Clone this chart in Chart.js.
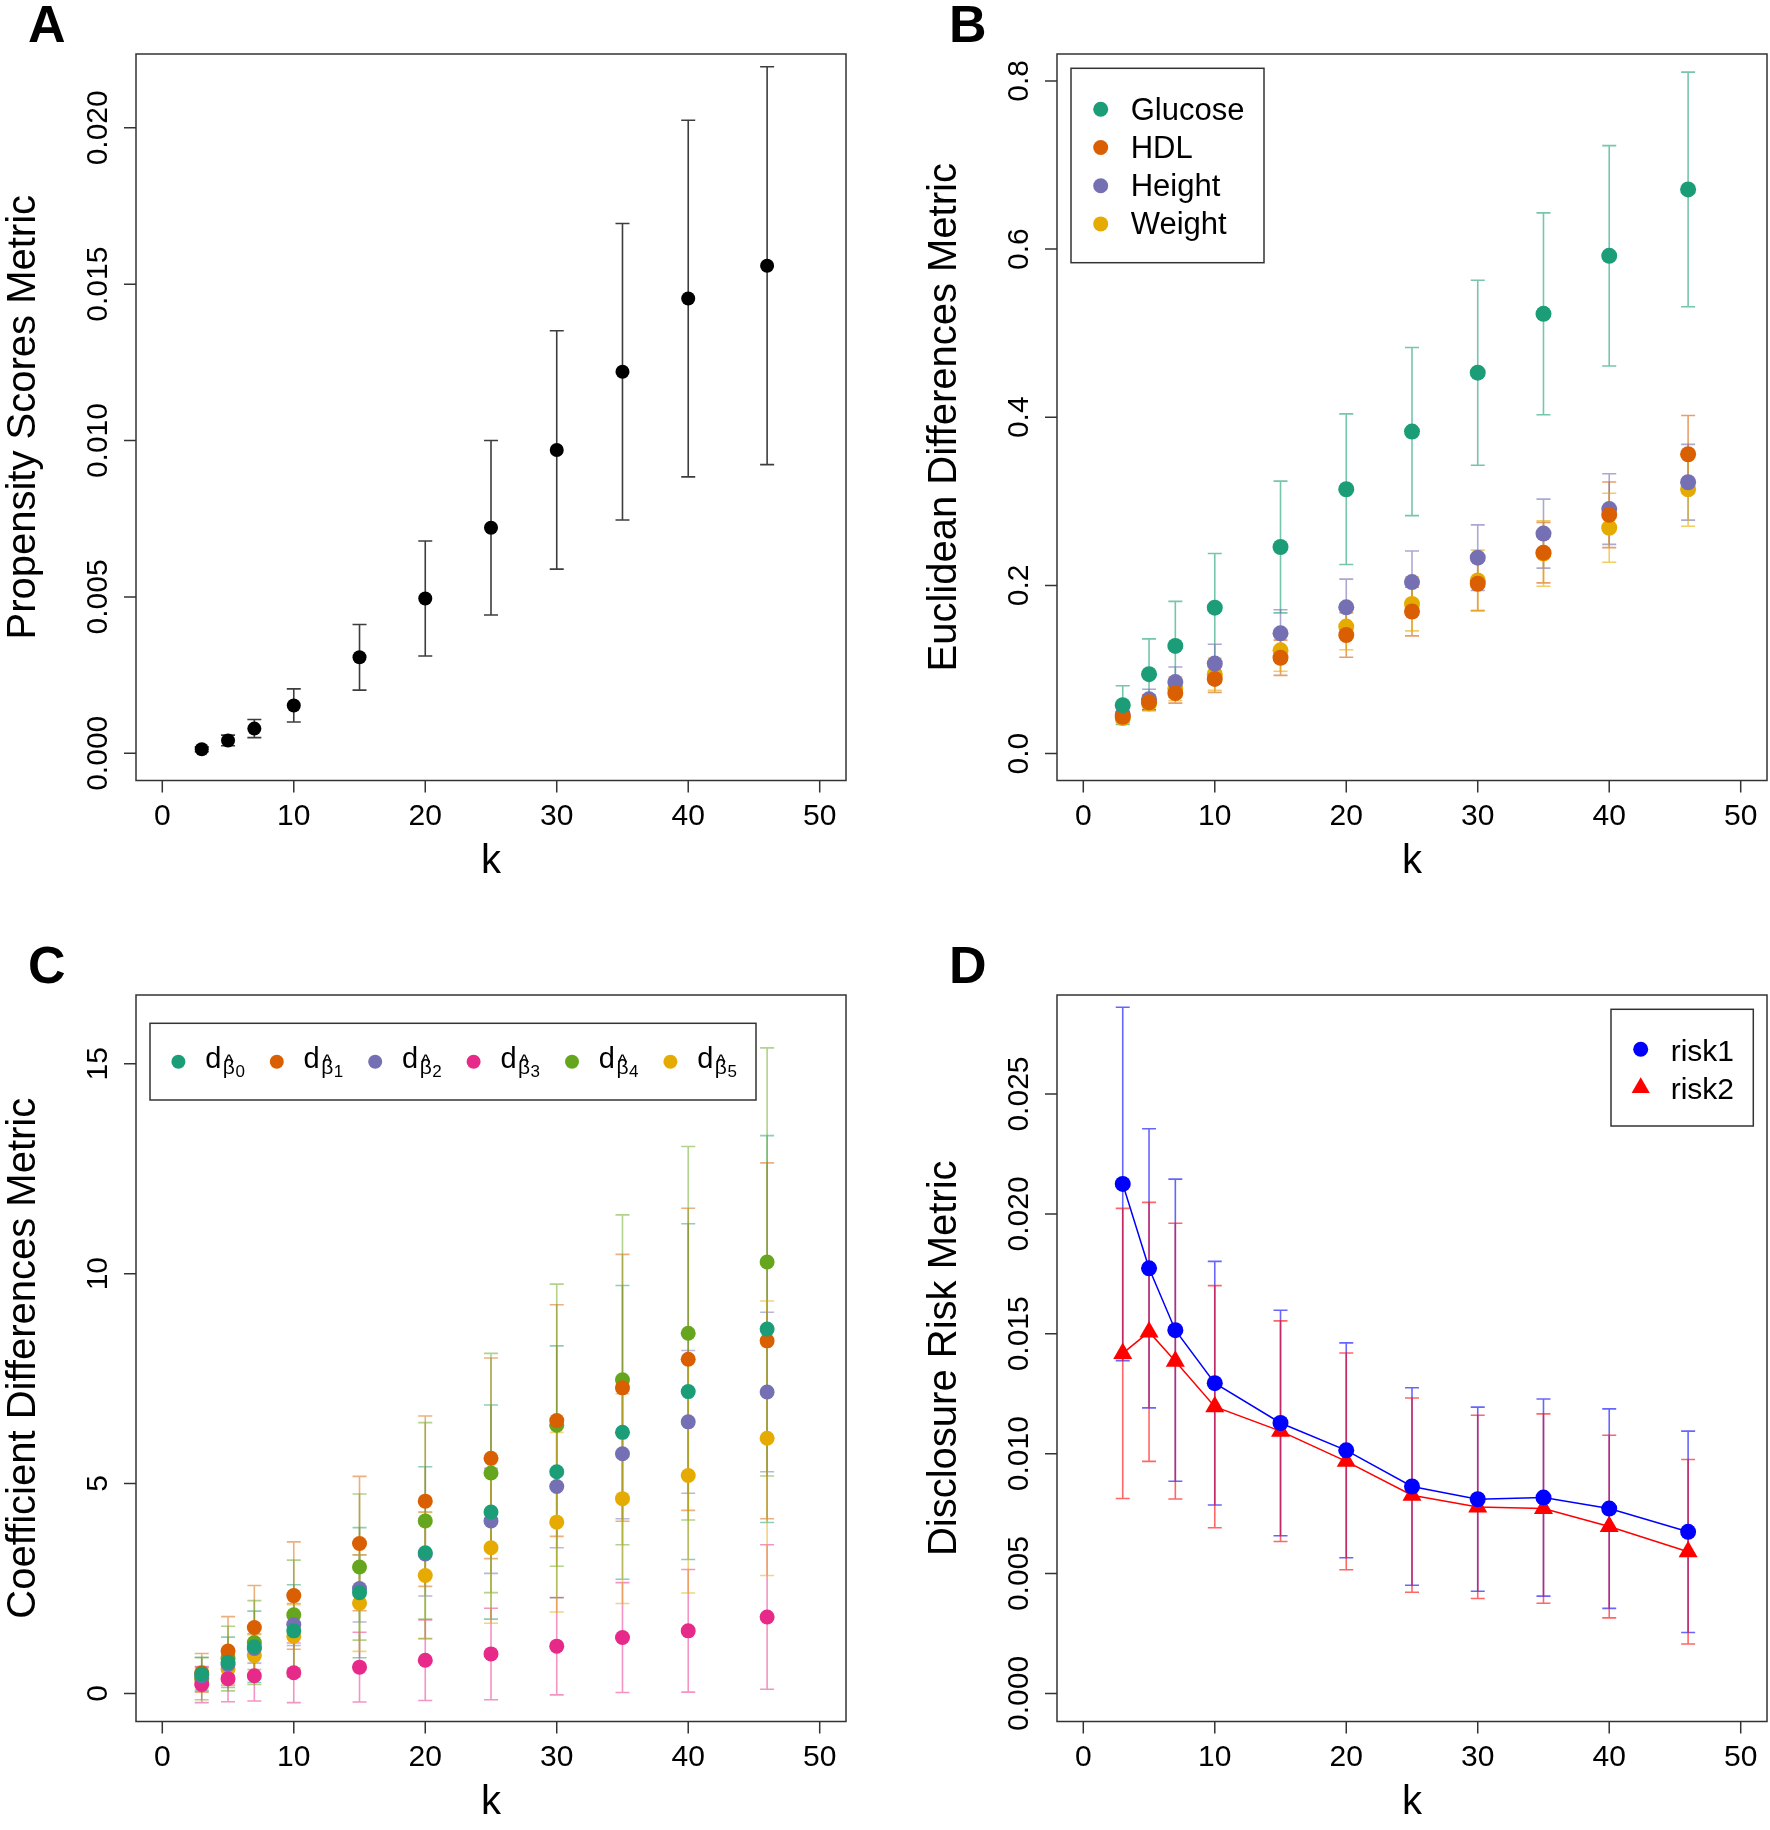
<!DOCTYPE html>
<html>
<head>
<meta charset="utf-8">
<script src="https://cdn.jsdelivr.net/npm/chart.js@4.4.1/dist/chart.umd.min.js"></script>
<style>
  body { margin: 0; background: #fff; }
  #wrap { position: relative; width: 1770px; height: 1830px; background: #fff; }
  canvas { position: absolute; }
</style>
</head>
<body>
<div id="wrap">
  <canvas id="panelA" width="849" height="889" style="left:0px;top:0px;width:849px;height:889px"></canvas>
  <canvas id="panelB" width="849" height="889" style="left:921px;top:0px;width:849px;height:889px"></canvas>
  <canvas id="panelC" width="849" height="889" style="left:0px;top:941px;width:849px;height:889px"></canvas>
  <canvas id="panelD" width="849" height="889" style="left:921px;top:941px;width:849px;height:889px"></canvas>
</div>
<script>
// k values shared by all four panels
const kValues = [3, 5, 7, 10, 15, 20, 25, 30, 35, 40, 46];
const xTicks = [0, 10, 20, 30, 40, 50];

// A - propensity scores metric (mean and sd)
const propMean = [0.00013, 0.00041, 0.00079, 0.00153, 0.00307, 0.00495, 0.00721, 0.0097, 0.0122, 0.01454, 0.01559];
const propSd = [0.00008, 0.00017, 0.00029, 0.00053, 0.00105, 0.00184, 0.00279, 0.00381, 0.00474, 0.0057, 0.00636];
const propTicks = [0, 0.005, 0.01, 0.015, 0.02];
const propTickLabels = ["0.000", "0.005", "0.010", "0.015", "0.020"];

// B - euclidean differences metric
const glucoseMean = [0.0576, 0.0944, 0.128, 0.1735, 0.2457, 0.3144, 0.383, 0.453, 0.523, 0.592, 0.671];
const glucoseSd = [0.023, 0.042, 0.053, 0.0645, 0.0783, 0.0896, 0.1, 0.11, 0.12, 0.131, 0.1395];
const hdlMean = [0.0437, 0.061, 0.072, 0.0888, 0.114, 0.141, 0.169, 0.202, 0.239, 0.284, 0.356];
const hdlSd = [0.006, 0.009, 0.012, 0.016, 0.021, 0.0265, 0.029, 0.032, 0.036, 0.039, 0.046];
const heightMean = [0.0465, 0.0645, 0.085, 0.107, 0.143, 0.174, 0.204, 0.233, 0.2616, 0.2908, 0.3227];
const heightSd = [0.007, 0.012, 0.018, 0.023, 0.028, 0.0335, 0.037, 0.039, 0.041, 0.042, 0.045];
const weightMean = [0.0423, 0.0597, 0.077, 0.0944, 0.1228, 0.151, 0.178, 0.206, 0.238, 0.2686, 0.3144];
const weightSd = [0.006, 0.009, 0.014, 0.019, 0.0248, 0.0275, 0.032, 0.036, 0.039, 0.041, 0.044];
const euclidTicks = [0, 0.2, 0.4, 0.6, 0.8];
const euclidTickLabels = ["0.0", "0.2", "0.4", "0.6", "0.8"];

// C - coefficient differences metric, d for beta-hat 0..5
const d0Mean = [0.46, 0.74, 1.11, 1.49, 2.40, 3.35, 4.32, 5.28, 6.22, 7.19, 8.68];
const d0Sd = [0.40, 0.60, 0.85, 1.10, 1.55, 2.05, 2.55, 3.00, 3.50, 4.00, 4.61];
const d1Mean = [0.49, 1.01, 1.57, 2.33, 3.57, 4.58, 5.60, 6.50, 7.28, 7.96, 8.40];
const d1Sd = [0.46, 0.82, 1.00, 1.28, 1.60, 2.03, 2.39, 2.76, 3.18, 3.60, 4.24];
const d2Mean = [0.42, 0.69, 1.07, 1.64, 2.50, 3.32, 4.11, 4.93, 5.71, 6.47, 7.18];
const d2Sd = [0.20, 0.25, 0.35, 0.50, 0.80, 1.00, 1.25, 1.46, 1.55, 1.70, 1.90];
const d3Mean = [0.21, 0.35, 0.42, 0.49, 0.625, 0.79, 0.94, 1.125, 1.33, 1.49, 1.82];
const d3Sd = [0.43, 0.55, 0.60, 0.71, 0.83, 0.96, 1.09, 1.16, 1.31, 1.46, 1.72];
const d4Mean = [0.35, 0.83, 1.21, 1.875, 3.01, 4.11, 5.25, 6.39, 7.47, 8.58, 10.28];
const d4Sd = [0.50, 0.77, 1.00, 1.30, 1.74, 2.34, 2.85, 3.36, 3.93, 4.45, 5.10];
const d5Mean = [0.35, 0.58, 0.90, 1.36, 2.15, 2.81, 3.47, 4.08, 4.64, 5.19, 6.08];
const d5Sd = [0.25, 0.35, 0.50, 0.75, 1.15, 1.50, 1.80, 2.14, 2.50, 2.80, 3.27];
const coefTicks = [0, 5, 10, 15];
const coefTickLabels = ["0", "5", "10", "15"];

// D - disclosure risk metric
const risk1Mean = [0.02125, 0.01773, 0.01515, 0.01294, 0.01128, 0.01014, 0.00863, 0.0081, 0.00817, 0.00771, 0.00674];
const risk1Sd = [0.00737, 0.00582, 0.0063, 0.00508, 0.0047, 0.00448, 0.00412, 0.00384, 0.00411, 0.00416, 0.0042];
const risk2Mean = [0.01418, 0.01508, 0.01386, 0.01196, 0.01094, 0.00968, 0.00827, 0.00778, 0.00771, 0.00696, 0.00591];
const risk2Sd = [0.00605, 0.0054, 0.00575, 0.00505, 0.0046, 0.00452, 0.00405, 0.00382, 0.00395, 0.00381, 0.00385];
const riskTicks = [0, 0.005, 0.01, 0.015, 0.02, 0.025];
const riskTickLabels = ["0.000", "0.005", "0.010", "0.015", "0.020", "0.025"];

const dark2 = ["#1B9E77", "#D95F02", "#7570B3", "#E7298A", "#66A61E", "#E6AB02"];
const FONT = '"Liberation Sans", Arial, Helvetica, sans-serif';

function pts(means) {
  return kValues.map((k, i) => ({ x: k, y: means[i] }));
}

function alpha(hex, a) {
  const n = parseInt(hex.slice(1), 16);
  return "rgba(" + (n >> 16) + "," + ((n >> 8) & 255) + "," + (n & 255) + "," + a + ")";
}

// per-panel frame settings (letters, titles, legends)
const frames = {};

function legendB(ctx, area, chart) {
  const x = area.left + 14, y = area.top + 14.3;
  ctx.fillStyle = "#fff";
  ctx.fillRect(x, y, 193, 194.4);
  ctx.strokeStyle = "#333";
  ctx.lineWidth = 1.5;
  ctx.strokeRect(x, y, 193, 194.4);
  ctx.font = "31px " + FONT;
  ctx.textAlign = "left";
  ctx.textBaseline = "alphabetic";
  chart.data.datasets.forEach((ds, i) => {
    const cy = y + 41 + i * 38.2;
    ctx.fillStyle = ds.pointBackgroundColor;
    ctx.beginPath();
    ctx.arc(x + 29.7, cy, 7.5, 0, Math.PI * 2);
    ctx.fill();
    ctx.fillStyle = "#000";
    ctx.fillText(ds.label, x + 59.7, cy + 10.5);
  });
}

function legendC(ctx, area, chart) {
  const x = area.left + 14, y = area.top + 28.3;
  ctx.fillStyle = "#fff";
  ctx.fillRect(x, y, 606, 76.7);
  ctx.strokeStyle = "#333";
  ctx.lineWidth = 1.5;
  ctx.strokeRect(x, y, 606, 76.7);
  ctx.textBaseline = "alphabetic";
  chart.data.datasets.forEach((ds, i) => {
    const cx = x + 28.4 + i * 98.4, cy = y + 38.4;
    ctx.fillStyle = ds.pointBackgroundColor;
    ctx.beginPath();
    ctx.arc(cx, cy, 7, 0, Math.PI * 2);
    ctx.fill();
    // d with subscript beta-hat and index
    ctx.fillStyle = "#000";
    const tx = cx + 26.8, base = cy + 6.6;
    ctx.textAlign = "left";
    ctx.font = "29px " + FONT;
    ctx.fillText("d", tx, base);
    const bx = tx + ctx.measureText("d").width + 1.5;
    ctx.font = "21px " + FONT;
    ctx.fillText("\u03B2", bx, base + 6);
    const bw = ctx.measureText("\u03B2").width;
    ctx.font = "20px " + FONT;
    ctx.textAlign = "center";
    ctx.fillText("^", bx + bw / 2, base + 0.5);
    ctx.textAlign = "left";
    ctx.font = "17px " + FONT;
    ctx.fillText(String(i), bx + bw + 0.5, base + 9);
  });
}

function legendD(ctx, area, chart) {
  const w = 142.3, h = 116.7;
  const x = area.right - 13.7 - w, y = area.top + 14.3;
  ctx.fillStyle = "#fff";
  ctx.fillRect(x, y, w, h);
  ctx.strokeStyle = "#333";
  ctx.lineWidth = 1.5;
  ctx.strokeRect(x, y, w, h);
  ctx.font = "30px " + FONT;
  ctx.textAlign = "left";
  ctx.textBaseline = "alphabetic";
  chart.data.datasets.forEach((ds, i) => {
    const cx = x + 29.7, cy = y + 40 + i * 38.4;
    ctx.fillStyle = ds.pointBackgroundColor;
    ctx.beginPath();
    if (ds.pointStyle === "triangle") {
      const r = 10.5;
      ctx.moveTo(cx, cy - r);
      ctx.lineTo(cx + r * 0.866, cy + r * 0.5);
      ctx.lineTo(cx - r * 0.866, cy + r * 0.5);
      ctx.closePath();
    } else {
      ctx.arc(cx, cy, 7.5, 0, Math.PI * 2);
    }
    ctx.fill();
    ctx.fillStyle = "#000";
    ctx.fillText(ds.label, x + 59.7, cy + 11.5);
  });
}

const rFrame = {
  id: "rFrame",
  beforeDatasetsDraw(chart) {
    // error bars (mean +/- sd) with caps
    const ctx = chart.ctx, xs = chart.scales.x, ys = chart.scales.y;
    chart.data.datasets.forEach(ds => {
      if (!ds.sd) return;
      ctx.save();
      ctx.strokeStyle = ds.barColor;
      ctx.lineWidth = 1.6;
      ds.data.forEach((p, i) => {
        const px = xs.getPixelForValue(p.x);
        const lo = ys.getPixelForValue(p.y - ds.sd[i]);
        const hi = ys.getPixelForValue(p.y + ds.sd[i]);
        ctx.beginPath();
        ctx.moveTo(px, lo);
        ctx.lineTo(px, hi);
        ctx.moveTo(px - 7, lo);
        ctx.lineTo(px + 7, lo);
        ctx.moveTo(px - 7, hi);
        ctx.lineTo(px + 7, hi);
        ctx.stroke();
      });
      ctx.restore();
    });
  },
  afterDraw(chart) {
    const f = frames[chart.canvas.id];
    const ctx = chart.ctx, a = chart.chartArea;
    const xs = chart.scales.x, ys = chart.scales.y;
    ctx.save();
    ctx.strokeStyle = "#333";
    ctx.lineWidth = 1.5;
    ctx.strokeRect(a.left, a.top, a.right - a.left, a.bottom - a.top);

    // tick marks on both axes
    ctx.beginPath();
    xTicks.forEach(v => {
      const px = xs.getPixelForValue(v);
      ctx.moveTo(px, a.bottom);
      ctx.lineTo(px, a.bottom + 12);
    });
    f.yTicks.forEach(v => {
      const py = ys.getPixelForValue(v);
      ctx.moveTo(a.left, py);
      ctx.lineTo(a.left - 12, py);
    });
    ctx.stroke();

    ctx.fillStyle = "#000";
    ctx.font = "30px " + FONT;
    ctx.textAlign = "center";
    ctx.textBaseline = "alphabetic";
    xTicks.forEach(v => {
      ctx.fillText(String(v), xs.getPixelForValue(v), a.bottom + 44.5);
    });
    f.yTicks.forEach((v, i) => {
      ctx.save();
      ctx.translate(a.left - 29, ys.getPixelForValue(v));
      ctx.rotate(-Math.PI / 2);
      ctx.fillText(f.yTickLabels[i], 0, 0);
      ctx.restore();
    });

    // axis titles
    ctx.font = "40px " + FONT;
    ctx.fillText("k", (a.left + a.right) / 2, a.bottom + 92);
    ctx.save();
    ctx.translate(a.left - 101, (a.top + a.bottom) / 2);
    ctx.rotate(-Math.PI / 2);
    ctx.fillText(f.yTitle, 0, 0);
    ctx.restore();

    // panel letter
    ctx.font = "bold 52px " + FONT;
    ctx.textAlign = "left";
    ctx.fillText(f.letter, a.left - 108, a.top - 12);

    if (f.legend) f.legend(ctx, a, chart);
    ctx.restore();
  }
};

function makeChart(id, datasets, yMin, yMax, frame) {
  frames[id] = frame;
  return new Chart(document.getElementById(id).getContext("2d"), {
    type: "scatter",
    data: { datasets: datasets },
    options: {
      responsive: false,
      animation: false,
      devicePixelRatio: 1,
      events: [],
      layout: { autoPadding: false, padding: { left: 136, top: 54, right: 3, bottom: 108.5 } },
      scales: {
        x: { type: "linear", min: -2, max: 52, display: false },
        y: { type: "linear", min: yMin, max: yMax, display: false }
      },
      plugins: { legend: { display: false }, tooltip: { enabled: false } }
    },
    plugins: [rFrame]
  });
}

function series(label, means, sd, color, barColor, radius) {
  return {
    label: label,
    data: pts(means),
    sd: sd,
    barColor: barColor,
    pointRadius: radius,
    pointBackgroundColor: color,
    pointBorderWidth: 0,
    borderWidth: 0
  };
}

makeChart("panelA", [
  series("Propensity", propMean, propSd, "#000", "rgba(40,40,40,0.9)", 7)
], -0.00087, 0.02236, {
  letter: "A", yTitle: "Propensity Scores Metric", yTicks: propTicks, yTickLabels: propTickLabels
});

makeChart("panelB", [
  series("Glucose", glucoseMean, glucoseSd, dark2[0], alpha(dark2[0], 0.6), 8),
  series("HDL", hdlMean, hdlSd, dark2[1], alpha(dark2[1], 0.6), 8),
  series("Height", heightMean, heightSd, dark2[2], alpha(dark2[2], 0.6), 8),
  series("Weight", weightMean, weightSd, dark2[5], alpha(dark2[5], 0.6), 8)
], -0.032, 0.832, {
  letter: "B", yTitle: "Euclidean Differences Metric", yTicks: euclidTicks, yTickLabels: euclidTickLabels, legend: legendB
});

makeChart("panelC", [
  series("d\u03B2\u03020", d0Mean, d0Sd, dark2[0], alpha(dark2[0], 0.5), 7.5),
  series("d\u03B2\u03021", d1Mean, d1Sd, dark2[1], alpha(dark2[1], 0.5), 7.5),
  series("d\u03B2\u03022", d2Mean, d2Sd, dark2[2], alpha(dark2[2], 0.5), 7.5),
  series("d\u03B2\u03023", d3Mean, d3Sd, dark2[3], alpha(dark2[3], 0.5), 7.5),
  series("d\u03B2\u03024", d4Mean, d4Sd, dark2[4], alpha(dark2[4], 0.5), 7.5),
  series("d\u03B2\u03025", d5Mean, d5Sd, dark2[5], alpha(dark2[5], 0.5), 7.5)
], -0.67, 16.64, {
  letter: "C", yTitle: "Coefficient Differences Metric", yTicks: coefTicks, yTickLabels: coefTickLabels, legend: legendC
});

const r1 = series("risk1", risk1Mean, risk1Sd, "#0000FF", "rgba(0,0,255,0.6)", 8);
r1.showLine = true;
r1.borderColor = "#0000FF";
r1.borderWidth = 1.5;
const r2 = series("risk2", risk2Mean, risk2Sd, "#FF0000", "rgba(255,0,0,0.6)", 11);
r2.showLine = true;
r2.borderColor = "#FF0000";
r2.borderWidth = 1.5;
r2.pointStyle = "triangle";

makeChart("panelD", [r1, r2], -0.00117, 0.02913, {
  letter: "D", yTitle: "Disclosure Risk Metric", yTicks: riskTicks, yTickLabels: riskTickLabels, legend: legendD
});
</script>
</body>
</html>
